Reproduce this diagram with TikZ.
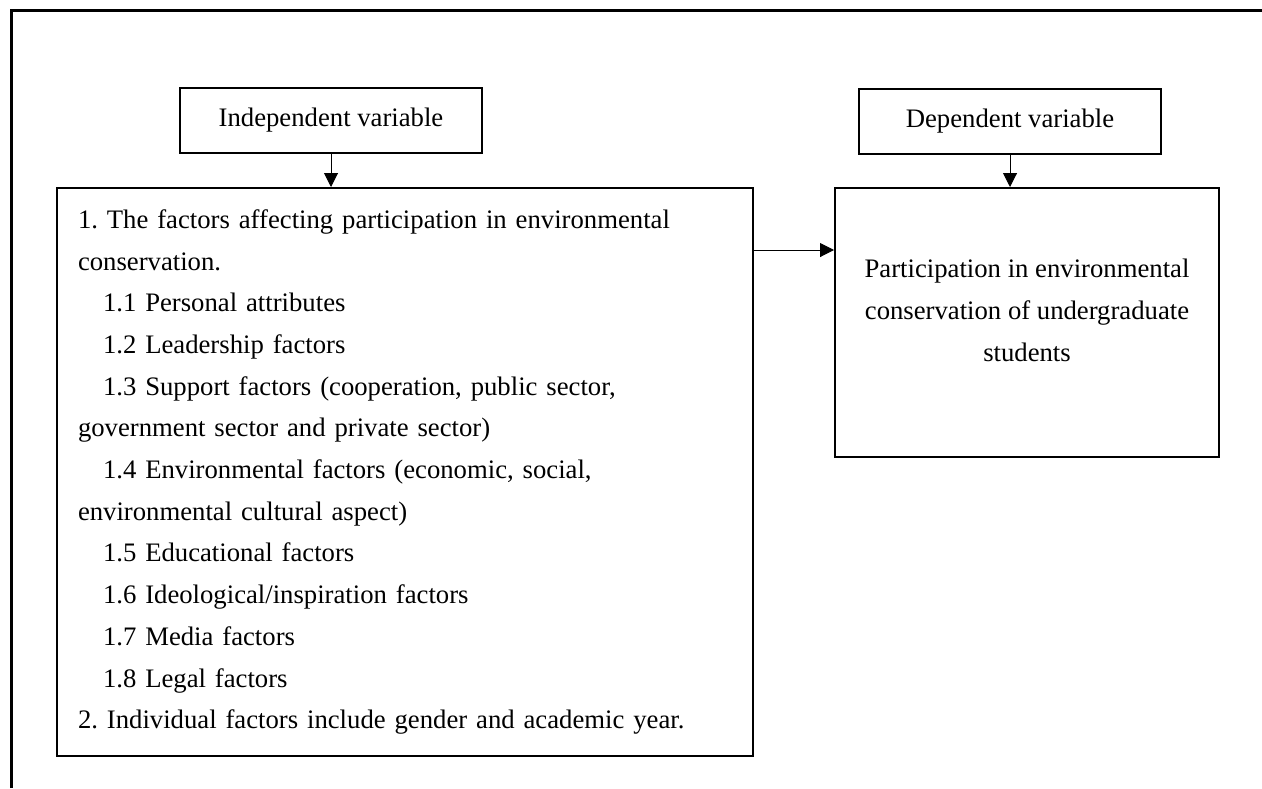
\documentclass[tikz,border=0pt]{standalone}
\usepackage{fontspec}
\setmainfont{Liberation Serif}
\usetikzlibrary{arrows.meta, positioning}
\frenchspacing

\begin{document}
\begin{tikzpicture} [x=0.5pt, y=-0.5pt,
  font=\fontsize{13.35pt}{20.85pt}\selectfont,
  varbox/.style = {draw, line width=1pt, minimum width=151pt, minimum height=32.5pt, inner sep=0pt},
  bigbox/.style = {draw, line width=1pt, inner ysep=0pt},
  arr/.style = {line width=0.5pt, -{Triangle[length=7pt, width=7pt]}}]
\useasboundingbox (0,0) rectangle (1262,788);
\draw[line width=1.5pt] (11.5,788) -- (11.5,10.5) -- (1262,10.5);
\node[varbox] (indep) at (331,120.5) {Independent variable};
\node[varbox] (dep) at (1010,121) {Dependent variable};
\node[bigbox, text width=327pt, minimum height=284pt, inner xsep=10.5pt, align=left] (factors) at (405,472) {%
1. The factors affecting participation in environmental\\
conservation.\\
\hspace*{12.5pt}1.1 Personal attributes\\
\hspace*{12.5pt}1.2 Leadership factors\\
\hspace*{12.5pt}1.3 Support factors (cooperation, public sector,\\
government sector and private sector)\\
\hspace*{12.5pt}1.4 Environmental factors (economic, social,\\
environmental cultural aspect)\\
\hspace*{12.5pt}1.5 Educational factors\\
\hspace*{12.5pt}1.6 Ideological/inspiration factors\\
\hspace*{12.5pt}1.7 Media factors\\
\hspace*{12.5pt}1.8 Legal factors\\
2. Individual factors include gender and academic year.};
\node[bigbox, minimum width=192pt, minimum height=134.5pt] (result) at (1027,322.5) {};
\node[align=center] (resulttext) at ([yshift=6pt]result.center) {%
Participation in environmental\\
conservation of undergraduate\\
students};
\coordinate (mid) at (0,250);
\draw[arr] (indep.south) -- (indep.south |- factors.north);
\draw[arr] (dep.south) -- (dep.south |- result.north);
\draw[arr] (factors.east |- mid) -- (result.west |- mid);
\end{tikzpicture}
\end{document}
